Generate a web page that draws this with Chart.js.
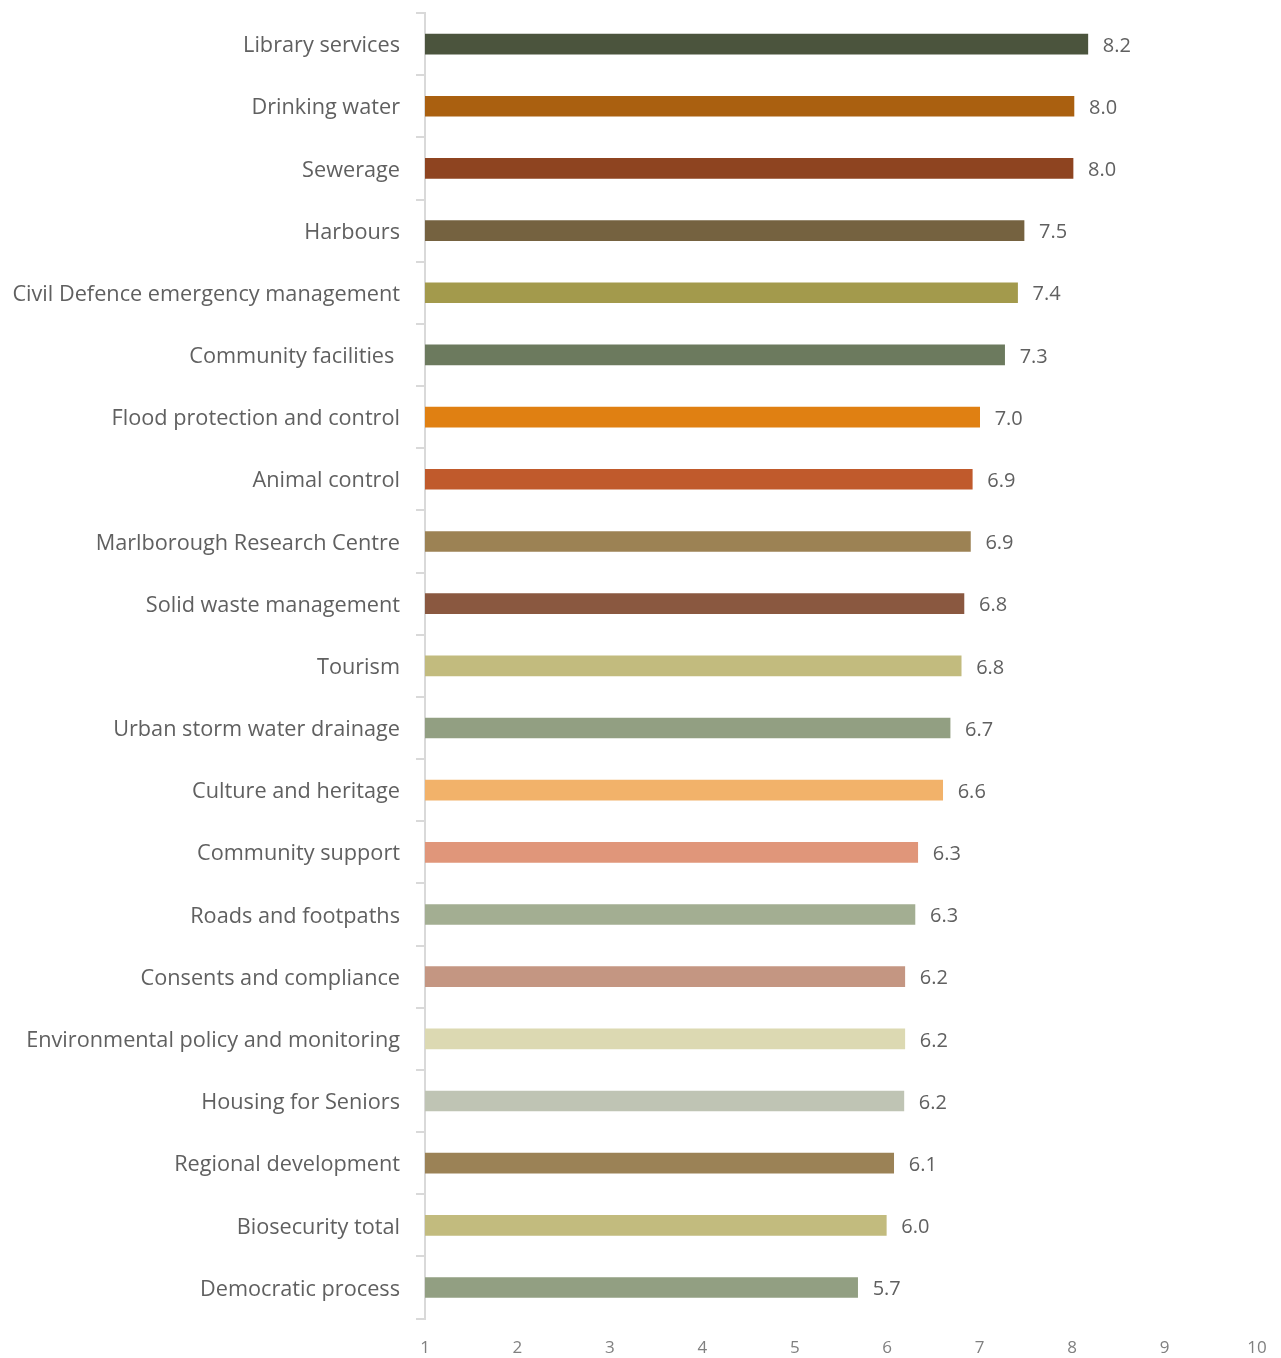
<!DOCTYPE html>
<html>
<head>
<meta charset="utf-8">
<script src="https://cdn.jsdelivr.net/npm/chart.js@4.4.1/dist/chart.umd.min.js"></script>
<style>
    html, body { margin: 0; padding: 0; background: #fff; }
    #wrap { position: relative; width: 1281px; height: 1358px; }
</style>
</head>
<body>
<div id="wrap"><canvas id="chart"></canvas></div>
<script>
// Categories, top to bottom
const categories = [
    "Library services",
    "Drinking water",
    "Sewerage",
    "Harbours",
    "Civil Defence emergency management",
    "Community facilities ",
    "Flood protection and control",
    "Animal control",
    "Marlborough Research Centre",
    "Solid waste management",
    "Tourism",
    "Urban storm water drainage",
    "Culture and heritage",
    "Community support",
    "Roads and footpaths",
    "Consents and compliance",
    "Environmental policy and monitoring",
    "Housing for Seniors",
    "Regional development",
    "Biosecurity total",
    "Democratic process",
];

// Mean scores
const scores = [8.17, 8.02, 8.01, 7.48, 7.41, 7.27, 7.0, 6.92, 6.9, 6.83, 6.8, 6.68, 6.6, 6.33, 6.3, 6.19, 6.19, 6.18, 6.07, 5.99, 5.68];

const barColors = [
    "#4b543d", "#aa6010", "#8e4420", "#756240", "#a39a4c", "#6c7a5e", "#e08012",
    "#c05a2c", "#9c8254", "#8a5840", "#c2bb7e", "#929f82", "#f2b26a", "#e0967a",
    "#a3ae92", "#c49682", "#dcd9b2", "#bfc4b4", "#9b8256", "#c2bb7e", "#929f82",
];

const xTicks = [1, 2, 3, 4, 5, 6, 7, 8, 9, 10];

const FONT = "'Open Sans', 'Noto Sans', sans-serif";

// Value labels at the end of each bar
const valueLabels = {
    id: "valueLabels",
    afterDatasetsDraw(chart) {
        const ctx = chart.ctx;
        const meta = chart.getDatasetMeta(0);
        ctx.save();
        ctx.font = "20px " + FONT;
        ctx.fillStyle = "#606060";
        ctx.textAlign = "left";
        ctx.textBaseline = "middle";
        meta.data.forEach((bar, i) => {
            ctx.fillText(scores[i].toFixed(1), bar.x + 15, bar.y + 2);
        });
        ctx.restore();
    },
};

const ctx = document.getElementById("chart").getContext("2d");
new Chart(ctx, {
    type: "bar",
    data: {
        labels: categories,
        datasets: [
            {
                data: scores,
                backgroundColor: barColors,
                borderWidth: 0,
                barThickness: 20,
            },
        ],
    },
    options: {
        indexAxis: "y",
        responsive: true,
        maintainAspectRatio: false,
        animation: false,
        layout: {
            padding: { top: 13, right: 24, left: 0, bottom: -19 },
        },
        plugins: {
            legend: { display: false },
            tooltip: { enabled: false },
        },
        scales: {
            x: {
                min: 1,
                max: 10,
                afterBuildTicks: (axis) => {
                    axis.ticks = xTicks.map((v) => ({ value: v }));
                },
                afterFit: (scale) => {
                    scale.paddingLeft = 0;
                    scale.paddingRight = 0;
                },
                grid: { display: false, drawTicks: false },
                border: { display: false },
                ticks: {
                    color: "#808080",
                    font: { family: FONT, size: 17 },
                    padding: 19,
                },
            },
            y: {
                afterFit: (scale) => {
                    scale.width = 425;
                    scale.paddingTop = 0;
                    scale.paddingBottom = 0;
                },
                grid: {
                    offset: true,
                    drawOnChartArea: false,
                    color: "#d9d9d9",
                    lineWidth: 2,
                    tickLength: 9,
                },
                border: { color: "#d9d9d9", width: 2 },
                ticks: {
                    color: "#606060",
                    font: { family: FONT, size: 21.7 },
                    padding: 16,
                    labelOffset: 2,
                },
            },
        },
    },
    plugins: [valueLabels],
});
</script>
</body>
</html>
